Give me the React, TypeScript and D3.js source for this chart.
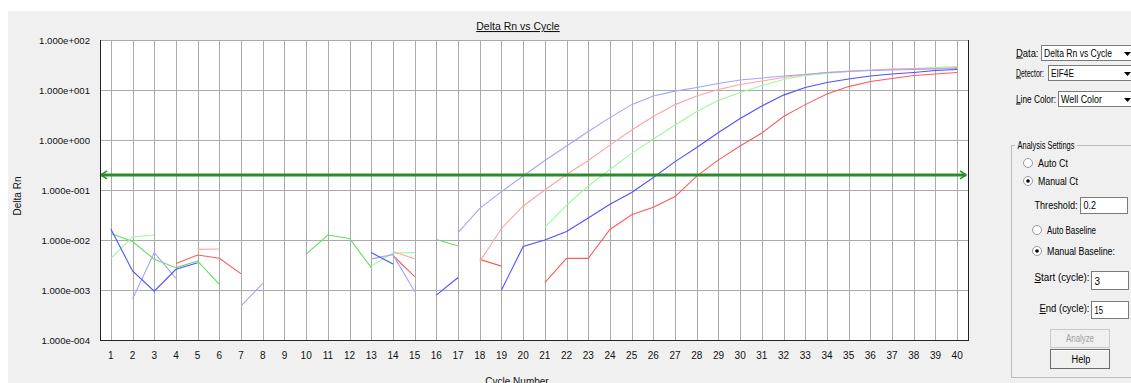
import React from "react";
import * as d3 from "d3";

const cycles = d3.range(1, 41);
const yTickValues = [1e-4, 1e-3, 1e-2, 1e-1, 1e0, 1e1, 1e2];
const yTickLabels = ["1.000e-004", "1.000e-003", "1.000e-002", "1.000e-001", "1.000e+000", "1.000e+001", "1.000e+002"];
const threshold = 0.2;
type V = number | null;

// light blue well
const lightBlue: V[] = [null, 6.6e-4, 5.6e-3, 1.7e-3, null, null, 4.8e-4, 1.35e-3, null, null,
  null, null, 4.2e-3, 5.1e-3, 9.3e-4, null, 1.41e-2, 4.3e-2, 9.3e-2, 0.19,
  0.39, 0.76, 1.48, 2.8, 5.1, 7.6, 9.5, 11.2, 13.5, 15.8,
  17.4, 19.1, 20.4, 22.4, 23.4, 24.5, 25.1, 25.7, 26.3, 26.9];
// blue well
const blue: V[] = [1.66e-2, 2.4e-3, 9.5e-4, 2.6e-3, 3.5e-3, null, null, null, null, null,
  null, null, 5.6e-3, 3.3e-3, null, 7.9e-4, 1.78e-3, null, 1.0e-3, 7.4e-3,
  1.0e-2, 1.48e-2, 2.75e-2, 5.2e-2, 8.9e-2, 0.178, 0.37, 0.71, 1.41, 2.7,
  4.8, 7.9, 11.2, 14.1, 16.6, 19.1, 20.9, 22.4, 24.5, 25.7];
// pink well
const pink: V[] = [null, null, null, null, 6.5e-3, 6.6e-3, null, null, null, null,
  null, null, null, 5.9e-3, 4.2e-3, null, null, 3.7e-3, 1.7e-2, 4.8e-2,
  0.10, 0.204, 0.39, 0.79, 1.58, 2.95, 5.1, 7.6, 10.2, 12.9,
  15.1, 17.8, 20.4, 22.4, 24.0, 25.1, 26.3, 26.9, 26.9, 28.2];
// red well
const red: V[] = [null, null, null, 3.4e-3, 5.0e-3, 4.3e-3, 2.1e-3, null, null, null,
  null, null, null, 4.9e-3, 1.86e-3, null, null, 4.1e-3, 3.0e-3, null,
  1.41e-3, 4.3e-3, 4.3e-3, 1.62e-2, 3.2e-2, 4.5e-2, 7.4e-2, 0.19, 0.40, 0.76,
  1.38, 2.95, 5.1, 8.3, 11.7, 14.8, 17.0, 19.5, 20.9, 22.4];
// light green well
const lightGreen: V[] = [4.3e-3, 1.15e-2, 1.26e-2, null, null, null, null, null, null, null,
  null, null, 3.0e-3, 5.5e-3, 5.6e-3, null, null, null, null, null,
  1.78e-2, 5.0e-2, 0.12, 0.257, 0.54, 1.05, 2.0, 3.7, 6.2, 8.9,
  12.3, 16.2, 19.5, 21.4, 23.4, 24.5, 25.7, 26.9, 28.2, 29.5];
// green well
const green: V[] = [1.35e-2, 9.3e-3, 4.1e-3, 2.8e-3, 3.8e-3, 1.29e-3, null, null, null, 5.2e-3,
  1.26e-2, 1.07e-2, 2.8e-3, null, null, 1.02e-2, 7.6e-3, null, null, null,
  null, null, null, null, null, null, null, null, null, null,
  null, null, null, null, null, null, null, null, null, null];

const seriesList: { name: string; values: V[]; color: string }[] = [
  { name: "green", values: green, color: "#5fe05f" },
  { name: "lightGreen", values: lightGreen, color: "#9ef79e" },
  { name: "red", values: red, color: "#ff5a5a" },
  { name: "pink", values: pink, color: "#ffa3a3" },
  { name: "lightBlue", values: lightBlue, color: "#a3a3ff" },
  { name: "blue", values: blue, color: "#5050ff" },
];

const FONT = "'Liberation Sans', Arial, sans-serif";

// panel text helper: text squeezed to a measured width
function PT(props: { x: number; y: number; w: number; t: string; ul?: boolean; fill?: string; anchor?: string }) {
  const { x, y, w, t, ul, fill, anchor } = props;
  return (
    <text
      x={x}
      y={y}
      fontSize={10}
      textLength={w}
      lengthAdjust="spacingAndGlyphs"
      fill={fill || "#000"}
      textAnchor={anchor || "start"}
    >
      {ul ? (
        <>
          <tspan textDecoration="underline">{t.slice(0, 1)}</tspan>
          {t.slice(1)}
        </>
      ) : (
        t
      )}
    </text>
  );
}

export default function App() {
  const left = 100, right = 968, top = 40, bottom = 340;
  const x = d3.scaleLinear().domain([0.5, 40.5]).range([left, right]);
  const y = d3.scaleLog().domain([1e-4, 1e2]).range([bottom, top]);
  const line = d3
    .line<V>()
    .defined((d) => d != null)
    .x((_, i) => x(cycles[i]))
    .y((d) => y(d as number));
  const ty = y(threshold);

  const combo = (cy: number, label: string, lw: number, bx: number, text: string, tw: number) => (
    <g key={label}>
      <PT x={1016} y={cy + 3.5} w={lw} t={label} ul />
      <rect x={bx + 0.5} y={cy - 7.5} width={1131 - bx + 2} height={15} fill="#fff" stroke="#7a7a7a" />
      <PT x={bx + 3} y={cy + 3.5} w={tw} t={text} />
      <path d={`M${1124},${cy - 1} l7,0 l-3.5,4 z`} fill="#000" />
    </g>
  );
  const radio = (cx: number, cy: number, label: string, lw: number, checked: boolean) => (
    <g key={label}>
      <circle cx={cx} cy={cy} r={4.5} fill="#fff" stroke="#999" />
      {checked && <circle cx={cx} cy={cy} r={1.8} fill="#000" />}
      <PT x={cx + 10} y={cy + 3.5} w={lw} t={label} />
    </g>
  );
  const textBox = (bx: number, by: number, w: number, h: number, t: string, tw: number) => (
    <g>
      <rect x={bx} y={by} width={w} height={h} fill="#fff" stroke="#7a7a7a" />
      <PT x={bx + 3} y={by + h - 5} w={tw} t={t} />
    </g>
  );

  return (
    <svg
      width={1131}
      height={383}
      style={{ position: "absolute", left: 0, top: 0, fontFamily: FONT }}
    >
      <rect x={0} y={0} width={1131} height={383} fill="#fff" />
      <rect x={8} y={11} width={1123} height={372} fill="#f0f0f0" />
      <rect x={left} y={top} width={right - left} height={bottom - top} fill="#fff" />

      {/* grid */}
      {cycles.map((c) => (
        <line key={"vx" + c} x1={Math.round(x(c)) + 0.5} x2={Math.round(x(c)) + 0.5} y1={top} y2={bottom} stroke="#ababab" />
      ))}
      {yTickValues.map((v) => (
        <line key={"hy" + v} x1={left} x2={right} y1={Math.round(y(v)) + 0.5} y2={Math.round(y(v)) + 0.5} stroke="#ababab" />
      ))}

      {/* series */}
      {seriesList.map((s) => (
        <path key={s.name} d={line(s.values) || ""} fill="none" stroke={s.color} strokeWidth={1.1} />
      ))}

      {/* threshold */}
      <line x1={left + 1} x2={right - 2} y1={ty} y2={ty} stroke="#2b8c2b" strokeWidth={3} />
      <path d={`M${left + 7},${ty - 4} L${left + 1},${ty} L${left + 7},${ty + 4}`} fill="none" stroke="#2b8c2b" strokeWidth={1.6} />
      <path d={`M${right - 8},${ty - 4} L${right - 2},${ty} L${right - 8},${ty + 4}`} fill="none" stroke="#2b8c2b" strokeWidth={1.6} />

      {/* frame */}
      <line x1={left + 0.5} x2={left + 0.5} y1={top} y2={bottom + 1} stroke="#222" />
      <line x1={left} x2={right + 1} y1={bottom + 0.5} y2={bottom + 0.5} stroke="#222" />
      <line x1={right + 0.5} x2={right + 0.5} y1={top} y2={bottom + 1} stroke="#222" />

      {/* y tick labels */}
      {yTickValues.map((v, i) => (
        <text key={"yl" + v} x={90} y={y(v) + 3.5} fontSize={9.6} textAnchor="end" fill="#111">
          {yTickLabels[i]}
        </text>
      ))}
      {/* x tick labels */}
      {cycles.map((c) => (
        <text key={"xl" + c} x={x(c)} y={359} fontSize={10} textAnchor="middle" fill="#111">
          {c}
        </text>
      ))}

      <text x={518} y={30} fontSize={10.5} textAnchor="middle" textDecoration="underline" fill="#111">
        Delta Rn vs Cycle
      </text>
      <text transform="translate(21,196) rotate(-90)" fontSize={10} textAnchor="middle" fill="#111">
        Delta Rn
      </text>
      <text x={517} y={385} fontSize={10} textAnchor="middle" fill="#111">
        Cycle Number
      </text>

      {/* right panel */}
      {combo(53, "Data:", 22.5, 1041, "Delta Rn vs Cycle", 68)}
      {combo(73, "Detector:", 28, 1048, "EIF4E", 23)}
      {combo(99, "Line Color:", 40, 1058, "Well Color", 41)}

      <rect x={1011.5} y={145.5} width={130} height={232} fill="none" stroke="#bcbcbc" />
      <rect x={1015} y={139} width={62} height={12} fill="#f0f0f0" />
      <PT x={1017.5} y={149} w={57} t="Analysis Settings" />
      {radio(1028, 163, "Auto Ct", 30, false)}
      {radio(1028, 181, "Manual Ct", 40, true)}
      <PT x={1034.5} y={208.5} w={43} t="Threshold:" />
      {textBox(1080.5, 197.5, 47, 16, "0.2", 12.5)}
      {radio(1037, 230, "Auto Baseline", 49, false)}
      {radio(1037, 251, "Manual Baseline:", 68, true)}
      <PT x={1034.5} y={281} w={55} t="Start (cycle):" ul />
      {textBox(1091.5, 271.5, 37, 18, "3", 5.5)}
      <PT x={1039.5} y={312} w={50} t="End (cycle):" ul />
      {textBox(1091.5, 301.5, 37, 17, "15", 8.5)}

      <rect x={1050.5} y={329.5} width={59} height={18} fill="#f0f0f0" stroke="#c8c8c8" />
      <PT x={1066} y={342} w={28} t="Analyze" fill="#a0a0a0" />
      <rect x={1050.5} y={349.5} width={59} height={19} fill="#f0f0f0" stroke="#6a6a6a" />
      <line x1={1051} x2={1109} y1={350.5} y2={350.5} stroke="#fff" />
      <PT x={1071.5} y={363} w={19} t="Help" />
    </svg>
  );
}
